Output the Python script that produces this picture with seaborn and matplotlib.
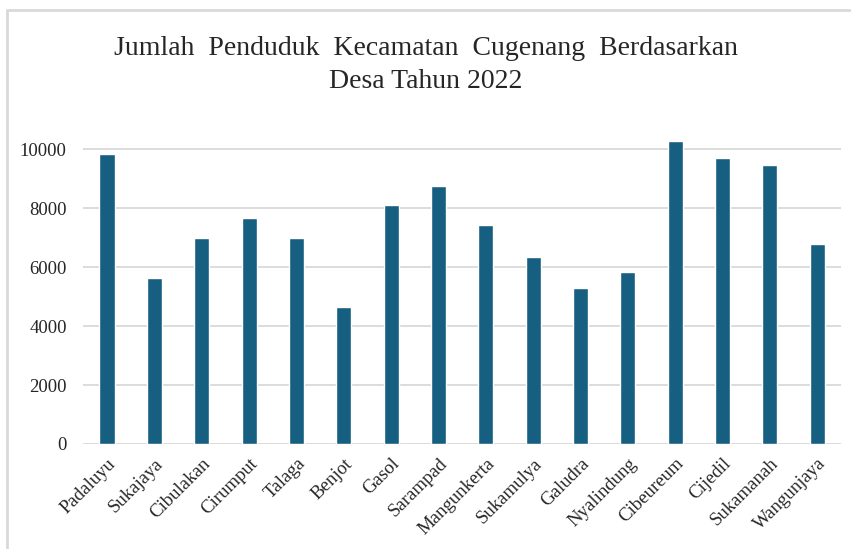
import matplotlib.pyplot as plt
import pandas as pd
import seaborn as sns
from matplotlib.lines import Line2D

desa = ['Padaluyu', 'Sukajaya', 'Cibulakan', 'Cirumput', 'Talaga', 'Benjot',
        'Gasol', 'Sarampad', 'Mangunkerta', 'Sukamulya', 'Galudra',
        'Nyalindung', 'Cibeureum', 'Cijedil', 'Sukamanah', 'Wangunjaya']
penduduk = [9830, 5630, 6980, 7660, 6980, 4640, 8100, 8750, 7420, 6340,
            5290, 5830, 10260, 9710, 9450, 6770]
y_ticks = [0, 2000, 4000, 6000, 8000, 10000]

df = pd.DataFrame({'Desa': desa, 'Penduduk': penduduk})

sns.set_theme(style='white')
plt.rcParams['font.family'] = ['Liberation Serif', 'DejaVu Serif']

fig, ax = plt.subplots(figsize=(8.51, 5.49), dpi=100)
fig.subplots_adjust(left=0.098, right=0.988, top=0.766, bottom=0.1913)

sns.barplot(data=df, x='Desa', y='Penduduk', color='#175f81', width=0.32,
            saturation=1, ax=ax, zorder=2)

ax.set_ylim(0, 10700)
ax.set_yticks(y_ticks)
ax.set_yticklabels([str(t) for t in y_ticks], fontsize=13.5, color='#262626')
for t in y_ticks:
    ax.axhline(t, color='#d9d9d9', lw=1.3, zorder=1)
ax.set_xlim(-0.5, len(desa) - 0.5)
ax.set_xticks(range(len(desa)))
ax.set_xticklabels(desa, rotation=45, ha='right', rotation_mode='anchor',
                   fontsize=13.5, color='#262626')
ax.tick_params(axis='both', length=0, pad=8)
ax.tick_params(axis='y', pad=12)
ax.set_xlabel('')
ax.set_ylabel('')
for s in ax.spines.values():
    s.set_visible(False)

fig.suptitle('Jumlah  Penduduk  Kecamatan  Cugenang  Berdasarkan\nDesa Tahun 2022',
             fontsize=20, y=0.934, va='top', linespacing=1.4)

# light frame around the chart area
fig.add_artist(Line2D([7 / 851, 1], [1 - 10 / 549, 1 - 10 / 549],
                      color='#d9d9d9', lw=2, transform=fig.transFigure))
fig.add_artist(Line2D([7 / 851, 7 / 851], [0, 1 - 10 / 549],
                      color='#d9d9d9', lw=2, transform=fig.transFigure))

plt.savefig('out.png', dpi=100)
